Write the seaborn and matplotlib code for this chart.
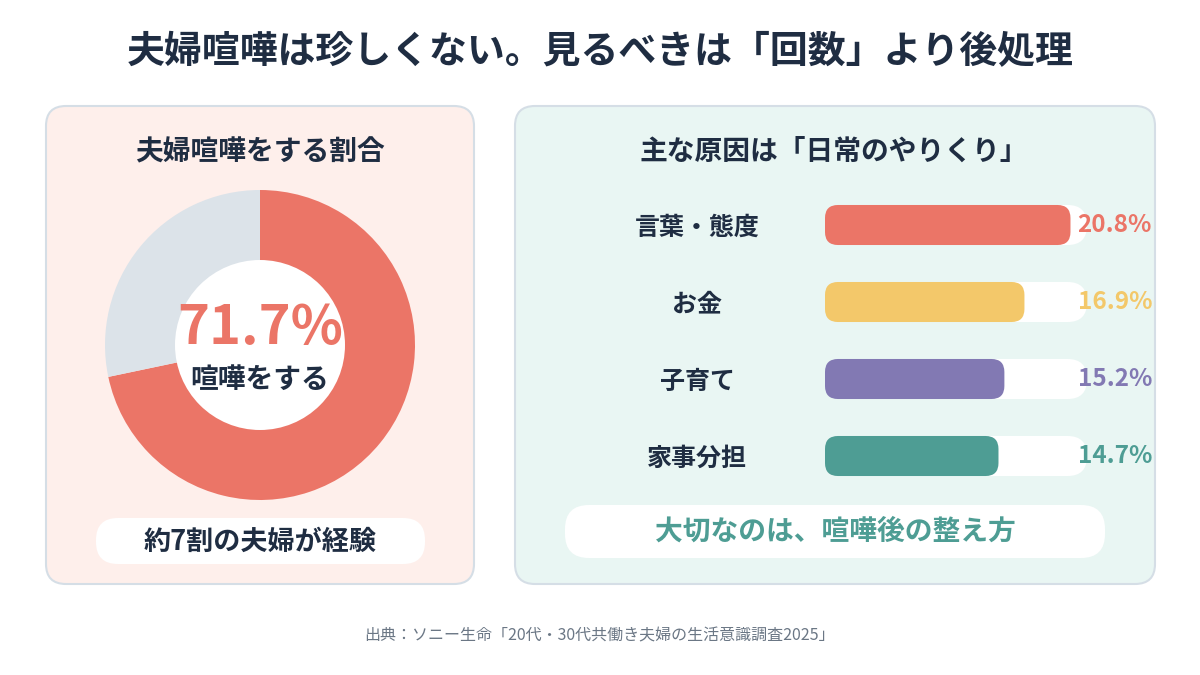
import matplotlib
matplotlib.use("Agg")
import matplotlib.pyplot as plt
import matplotlib.transforms as mtransforms
from matplotlib.patches import FancyBboxPatch, Circle
import seaborn as sns

# ---------------- data ----------------
TITLE = "夫婦喧嘩は珍しくない。見るべきは「回数」より後処理"
LEFT_TITLE = "夫婦喧嘩をする割合"
RIGHT_TITLE = "主な原因は「日常のやりくり」"
SHARE_LABEL = "喧嘩をする"
share_values = [71.7, 28.3]            # 喧嘩をする / しない
LEFT_NOTE = "約7割の夫婦が経験"
RIGHT_NOTE = "大切なのは、喧嘩後の整え方"
causes = ["言葉・態度", "お金", "子育て", "家事分担"]
cause_values = [20.8, 16.9, 15.2, 14.7]
TRACK_MAX = 22.2
SOURCE = "出典：ソニー生命「20代・30代共働き夫婦の生活意識調査2025」"

# ---------------- style ----------------
DARK = "#1F2D42"
RED = "#EB7567"
GRAY = "#DCE3E9"
cause_colors = ["#EB7567", "#F3C86A", "#8279B3", "#4E9D94"]
TEAL = "#4E9D94"
LEFT_BG = "#FEEFEB"
RIGHT_BG = "#E9F6F3"
BORDER = "#D5DEE6"

sns.set_theme(style="white")
plt.rcParams["font.family"] = ["Noto Sans CJK JP", "DejaVu Sans"]

W, H = 1200, 675
fig = plt.figure(figsize=(12, 6.75), dpi=100)
fig.patch.set_facecolor("white")

# layout layer in pixel coordinates
lay = fig.add_axes([0, 0, 1, 1], zorder=0)
lay.set_xlim(0, W)
lay.set_ylim(H, 0)
lay.axis("off")


def rbox(x, y, w, h, r, fc, ec="none", lw=0):
    lay.add_patch(FancyBboxPatch((x, y), w, h,
                                 boxstyle=f"round,pad=0,rounding_size={r}",
                                 fc=fc, ec=ec, lw=lw))


lay.text(600, 52, TITLE, ha="center", va="center", fontsize=27.3,
         fontweight="bold", color=DARK)

rbox(46, 106, 428, 478, 20, LEFT_BG, BORDER, 1.5)
rbox(515, 106, 640, 478, 20, RIGHT_BG, BORDER, 1.5)

lay.text(260, 152, LEFT_TITLE, ha="center", va="center", fontsize=20,
         fontweight="bold", color=DARK)
lay.text(834, 152, RIGHT_TITLE, ha="center", va="center", fontsize=20,
         fontweight="bold", color=DARK)

rbox(96, 518, 329, 46, 22, "white")
lay.text(260, 542, LEFT_NOTE, ha="center", va="center", fontsize=19.5,
         fontweight="bold", color=DARK)

rbox(565, 505, 540, 53, 24, "white")
lay.text(835, 532, RIGHT_NOTE, ha="center", va="center", fontsize=20,
         fontweight="bold", color=TEAL)

lay.text(600, 636, SOURCE, ha="center", va="center", fontsize=11.5,
         color="#6B7785")

# ---------------- donut ----------------
dax = fig.add_axes([105 / W, (H - 500) / H, 310 / W, 310 / H], zorder=2)
dax.pie(share_values, colors=[RED, GRAY], startangle=90, counterclock=False,
        radius=1.0, wedgeprops=dict(linewidth=0, edgecolor="none"))
dax.add_patch(Circle((0, 0), 85 / 155, fc="white", ec="none", zorder=3))
dax.set_xlim(-1, 1)
dax.set_ylim(-1, 1)
dax.set_aspect("equal")
dax.axis("off")
dax.text(0, 0.105, f"{share_values[0]:.1f}%", ha="center", va="center",
         fontsize=39, fontweight="bold", color=RED, zorder=4)
dax.text(0, -0.225, SHARE_LABEL, ha="center", va="center", fontsize=20,
         fontweight="bold", color=DARK, zorder=4)

# ---------------- bars ----------------
bx0, bx1 = 825, 1087
by_top, by_bot = 186.5, 494.5
bax = fig.add_axes([bx0 / W, (H - by_bot) / H, (bx1 - bx0) / W,
                    (by_bot - by_top) / H], zorder=2)
bax.set_facecolor("none")
BAR_W = 0.52
sns.barplot(x=[TRACK_MAX] * len(causes), y=causes, color="white",
            width=BAR_W, orient="h", ax=bax, saturation=1)
n_track = len(bax.patches)
sns.barplot(x=cause_values, y=causes, hue=causes, palette=cause_colors,
            width=BAR_W, orient="h", ax=bax, legend=False, saturation=1)
bax.set_xlim(0, TRACK_MAX)
bax.set_ylim(len(causes) - 0.5, -0.5)

px_x = bax.transData.transform((1, 0))[0] - bax.transData.transform((0, 0))[0]
px_y = abs(bax.transData.transform((0, 1))[1] - bax.transData.transform((0, 0))[1])
aspect = px_x / px_y

patches = list(bax.patches)
for k, p in enumerate(patches):
    x, y = p.get_x(), p.get_y()
    w, h = p.get_width(), p.get_height()
    fc = p.get_facecolor()
    r_px = 19.5 if k < n_track else 13
    p.remove()
    bax.add_patch(FancyBboxPatch((x, y), w, h,
                                 boxstyle=f"round,pad=0,rounding_size={r_px / px_x}",
                                 mutation_aspect=aspect, fc=fc, ec="none",
                                 zorder=1 if k < n_track else 2))

for s in bax.spines.values():
    s.set_visible(False)
bax.set_xticks([])
bax.set_xlabel("")
bax.set_ylabel("")
bax.tick_params(axis="y", length=0, pad=92)
for lbl in bax.get_yticklabels():
    lbl.set_ha("center")
    lbl.set_fontsize(18)
    lbl.set_fontweight("bold")
    lbl.set_color(DARK)

blend = mtransforms.blended_transform_factory(lay.transData, bax.transData)
for i, (v, c) in enumerate(zip(cause_values, cause_colors)):
    bax.text(1152, i, f"{v:.1f}%", transform=blend, ha="right", va="center",
             fontsize=17.5, fontweight="bold", color=c, clip_on=False, zorder=5)

fig.savefig("out.png", dpi=100)
